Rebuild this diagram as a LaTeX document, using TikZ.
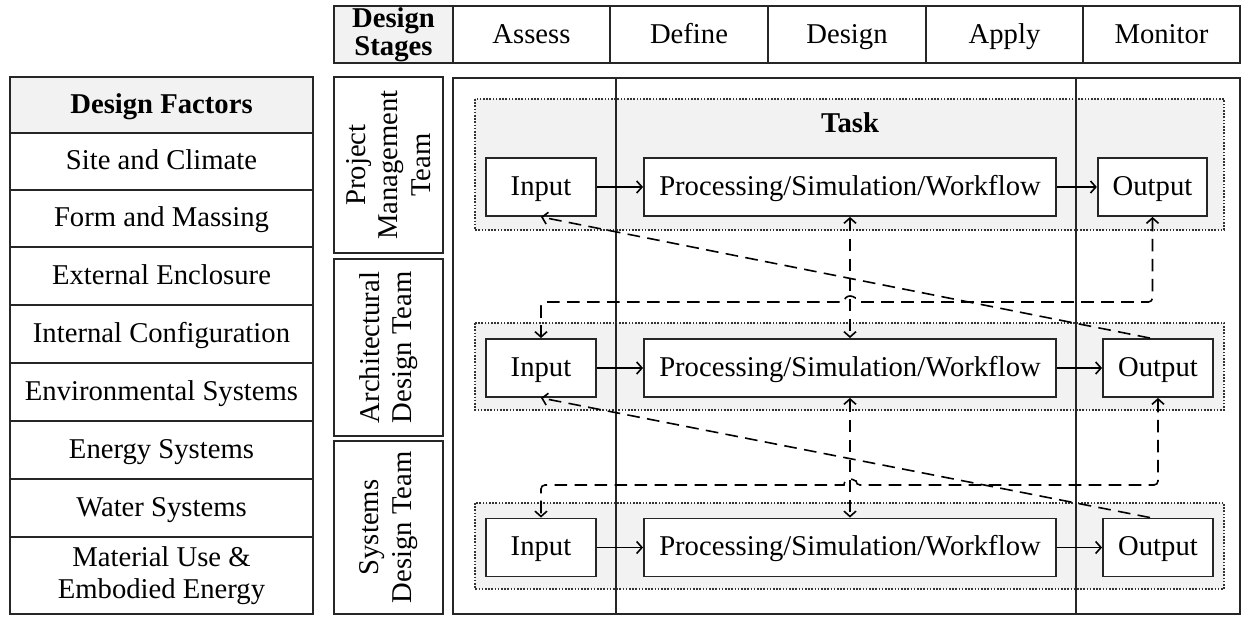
\documentclass[tikz,border=0pt]{standalone}
\usepackage{fontspec}
\setmainfont{Liberation Serif}
\usetikzlibrary{arrows.meta}

\definecolor{cellgray}{HTML}{F2F2F2}
\newcommand{\figfont}{\fontsize{21.5}{24.5}\selectfont}

\tikzset{every picture/.style={line width=1.2pt}}
\tikzset{
  >={Straight Barb[length=4pt,width=9pt]},
  tbl/.style={draw=black!85, line width=1.4pt},
  hdr/.style={tbl, fill=cellgray},
  grp/.style={draw=black!80, fill=cellgray, line width=1.4pt, dash pattern=on 1.2pt off 1.2pt},
  txt/.style={inner sep=0.75pt, align=center, font=\figfont},
  oneline/.style={text height=16pt, text depth=3.5pt},
  blk/.style={draw=black!85, fill=white, line width=1.4pt, inner sep=0pt, minimum height=43.5pt, font=\figfont, oneline},
  flow/.style={line width=1.2pt, ->},
  dflow/.style={line width=1.2pt, dash pattern=on 9.5pt off 5.5pt}
}

\begin{document}
\begin{tikzpicture}[x=0.75pt,y=0.75pt,yscale=-1]
\useasboundingbox (0,0) rectangle (1243,617);

%Shape: Rectangle [design factors]
\draw[hdr] (10,77) rectangle (313,133);
\draw[tbl] (10,133) rectangle (313,190);
\draw[tbl] (10,190) rectangle (313,247);
\draw[tbl] (10,247) rectangle (313,305);
\draw[tbl] (10,305) rectangle (313,363);
\draw[tbl] (10,363) rectangle (313,421);
\draw[tbl] (10,421) rectangle (313,479);
\draw[tbl] (10,479) rectangle (313,537);
\draw[tbl] (10,537) rectangle (313,614);

% Text Node
\node[txt, oneline, font=\figfont\bfseries] (facHead) at (161.5,105) {Design Factors};
\node[txt, oneline] (facSite) at (161.5,161.5) {Site and Climate};
\node[txt, oneline] (facForm) at (161.5,218.5) {Form and Massing};
\node[txt, oneline] (facExt) at (161.5,276) {External Enclosure};
\node[txt, oneline] (facInt) at (161.5,334) {Internal Configuration};
\node[txt, oneline] (facEnv) at (161.5,392) {Environmental Systems};
\node[txt, oneline] (facEnergy) at (161.5,450) {Energy Systems};
\node[txt, oneline] (facWater) at (161.5,508) {Water Systems};
\node[txt] (facMat) at (161.5,575.5) {Material Use \&\\Embodied Energy};

%Shape: Rectangle [design stages]
\draw[hdr] (334,6) rectangle (453,63);
\draw[tbl] (453,6) rectangle (610,63);
\draw[tbl] (610,6) rectangle (768,63);
\draw[tbl] (768,6) rectangle (926,63);
\draw[tbl] (926,6) rectangle (1083,63);
\draw[tbl] (1083,6) rectangle (1240,63);

% Text Node
\node[txt, font=\fontsize{21.5}{21}\selectfont\bfseries] (stgHead) at (393.5,35) {Design\\Stages};
\node[txt, oneline] (stgAssess) at (531.5,35) {Assess};
\node[txt, oneline] (stgDefine) at (689,35) {Define};
\node[txt, oneline] (stgDesign) at (847,35) {Design};
\node[txt, oneline] (stgApply) at (1004.5,35) {Apply};
\node[txt, oneline] (stgMonitor) at (1161.5,35) {Monitor};

%Shape: Rectangle [teams]
\draw[tbl] (334,77) rectangle (443,253);
\draw[tbl] (334,259) rectangle (443,436);
\draw[tbl] (334,441) rectangle (443,614);

% Text Node
\node[txt, rotate=90] (teamPM) at (388.5,165) {Project\\Management\\Team};
\node[txt, rotate=90] (teamArch) at (388.5,347.5) {Architectural\\Design Team};
\node[txt, rotate=90] (teamSys) at (388.5,527.5) {Systems\\Design Team};

%Shape: Rectangle [main frame]
\draw[tbl] (453,78) rectangle (1240,614);

%Shape: Rectangle [task groups]
\draw[grp] (475,99) rectangle (1224,230);
\draw[grp] (475,323) rectangle (1224,410);
\draw[grp] (475,503) rectangle (1224,589);

%Straight Lines [stage dividers]
\draw[line width=1.4pt, black!85] (616,78) -- (616,614);
\draw[line width=1.4pt, black!85] (1076,78) -- (1076,614);

% Text Node
\node[txt, oneline, font=\figfont\bfseries] (task) at (850,124) {Task};

%Shape: Rectangle [blocks]
\node[blk, minimum width=82.5pt] (in1) at (541,187) {Input};
\node[blk, minimum width=309pt] (proc1) at (850,187) {Processing/Simulation/Workflow};
\node[blk, minimum width=82pt] (out1) at (1152.5,187) {Output};

\node[blk, minimum width=82.5pt] (in2) at (541,368) {Input};
\node[blk, minimum width=309pt] (proc2) at (850,368) {Processing/Simulation/Workflow};
\node[blk, minimum width=82.5pt] (out2) at (1158,368) {Output};

\node[blk, minimum width=82.5pt] (in3) at (541,547.5) {Input};
\node[blk, minimum width=309pt] (proc3) at (850,547.5) {Processing/Simulation/Workflow};
\node[blk, minimum width=82.5pt] (out3) at (1158,547.5) {Output};

%Straight Lines [task flow]
\draw[flow] (in1) -- (proc1);
\draw[flow] (proc1) -- (out1);
\draw[flow] (in2) -- (proc2);
\draw[flow] (proc2) -- (out2);
\draw[flow] (in3) -- (proc3);
\draw[flow] (proc3) -- (out3);

% hop points over the vertical links
\coordinate (hopA) at (856,302);
\coordinate (hopB) at (856,485);

%Dashed Lines [between teams]
\draw[dflow, <->] (proc1.south) -- (proc2.north);
\draw[dflow, <->] (proc2.south) -- (proc3.north);
\draw[dflow, ->] ([xshift=-6pt]out2.north) -- (in1.south);
\draw[dflow, ->] ([xshift=-6pt]out3.north) -- (in2.south);
\draw[dflow, <->] (out1.south) [rounded corners=3pt] |- (hopA) [sharp corners] arc[start angle=0, end angle=-180, radius=4.5pt] [rounded corners=3pt] -| (in2.north);
\draw[dflow, <->] (out2.south) [rounded corners=3pt] |- (hopB) [sharp corners] arc[start angle=0, end angle=-180, radius=4.5pt] [rounded corners=3pt] -| (in3.north);

\end{tikzpicture}
\end{document}
